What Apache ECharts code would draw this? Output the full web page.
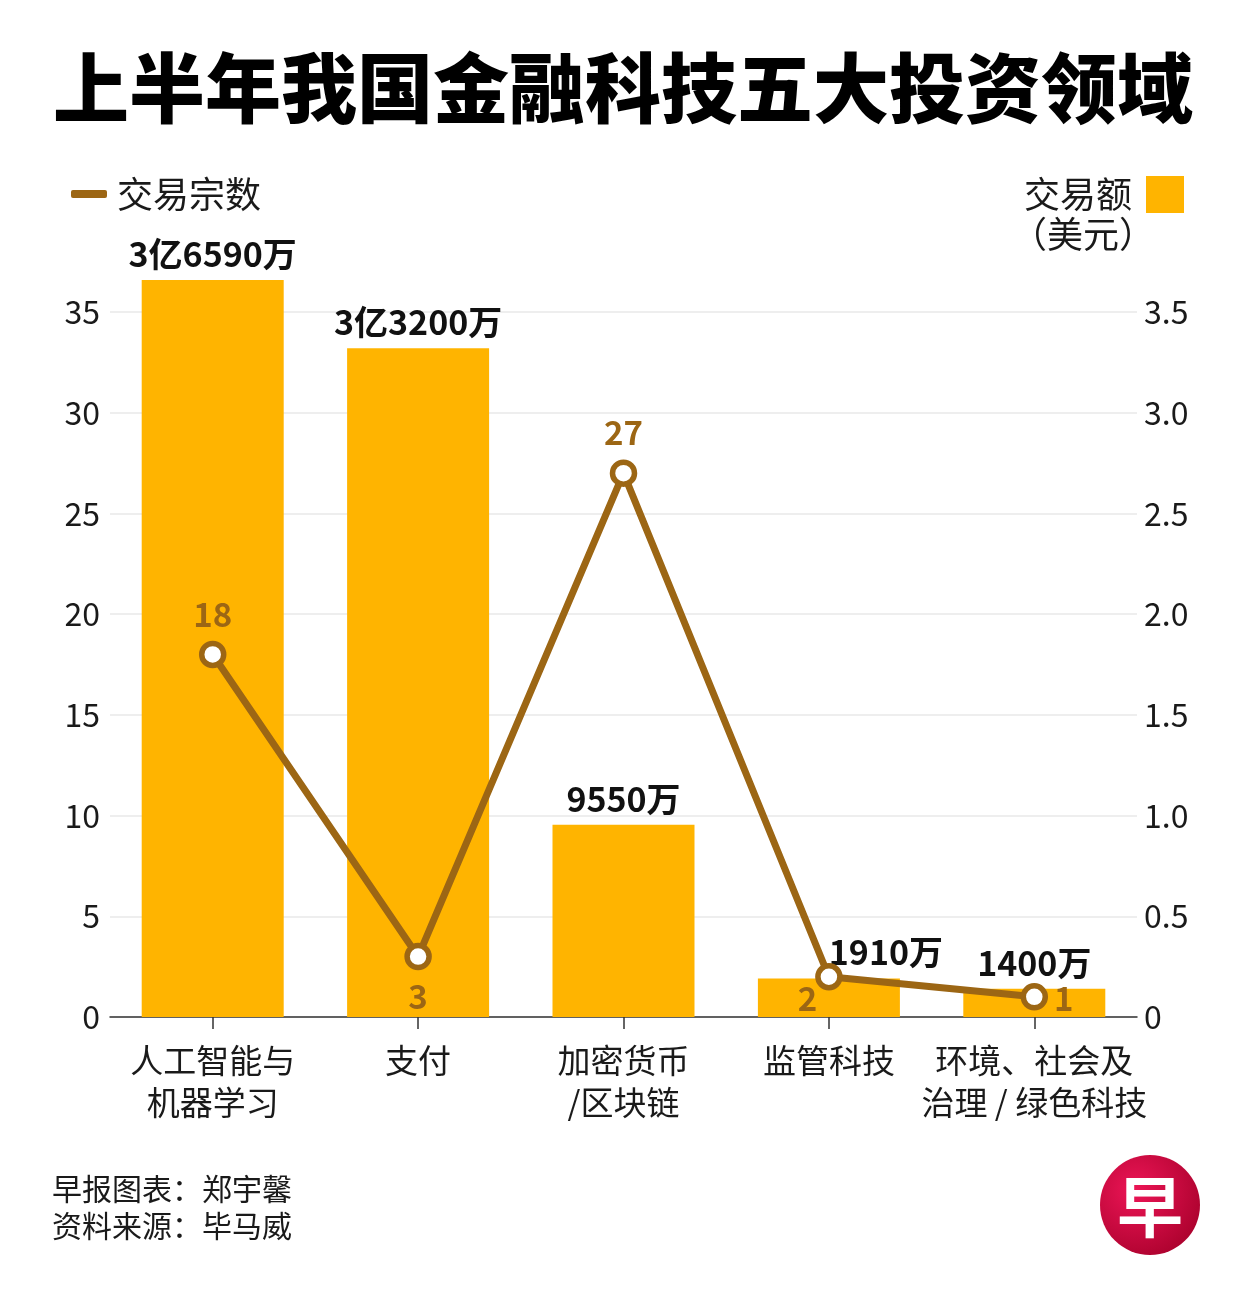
<!DOCTYPE html>
<html>
<head>
<meta charset="utf-8">
<script src="https://cdn.jsdelivr.net/npm/echarts@6/dist/echarts.min.js"></script>
<style>
html,body{margin:0;padding:0;background:#fff;}
#c{width:1251px;height:1310px;}
</style>
</head>
<body>
<div id="c"></div>
<script>
const categories = ['人工智能与\n机器学习', '支付', '加密货币\n/区块链', '监管科技', '环境、社会及\n治理 / 绿色科技'];
const dealCounts = [18, 3, 27, 2, 1];
const dealValues = [3.659, 3.32, 0.955, 0.191, 0.14];
const valueLabels = ['3亿6590万', '3亿3200万', '9550万', '1910万', '1400万'];
const leftTicks = { min: 0, max: 35, interval: 5 };
const rightTicks = { min: 0, max: 3.5, interval: 0.5 };

const FONT = '"Noto Sans CJK SC", "Noto Sans", sans-serif';
const BAR = '#FFB400';
const LINE = '#9C6614';

const chart = echarts.init(document.getElementById('c'), null, { renderer: 'canvas' });

const lineLabelPos = [
  { position: 'top', distance: 10 },
  { position: 'bottom', distance: 10 },
  { position: 'top', distance: 10 },
  { position: 'left', distance: 0, offset: [2, 22] },
  { position: 'right', distance: 6, offset: [0, 2] }
];
const barLabelPos = [
  { offset: [0, 0] },
  { offset: [0, 0] },
  { offset: [0, 0] },
  { offset: [57, 0] },
  { offset: [0, 0] }
];

chart.setOption({
  backgroundColor: '#fff',
  textStyle: { fontFamily: FONT },
  animation: false,
  grid: { left: 110, right: 114, top: 312, bottom: 293, containLabel: false },
  legend: [
    {
      data: [{ name: '交易宗数', icon: 'roundRect', itemStyle: { color: LINE, borderWidth: 0 } }],
      left: 66, top: 171,
      itemWidth: 36, itemHeight: 8, itemGap: 10,
      textStyle: { fontSize: 36, color: '#1a1a1a', fontFamily: FONT, padding: [0, 0, 0, 5] },
      selectedMode: false
    },
    {
      data: [{ name: '交易额', icon: 'rect' }],
      right: 62, top: 171, align: 'right',
      itemWidth: 38, itemHeight: 37,
      textStyle: { fontSize: 36, color: '#1a1a1a', fontFamily: FONT, padding: [0, 9, 0, 0] },
      selectedMode: false
    }
  ],
  xAxis: {
    type: 'category',
    data: categories,
    axisLine: { lineStyle: { color: '#333', width: 1.5 } },
    axisTick: { show: true, alignWithLabel: true, length: 12, lineStyle: { color: '#333', width: 1.5 } },
    axisLabel: { interval: 0, fontSize: 33, lineHeight: 42, color: '#1a1a1a', margin: 22, fontFamily: FONT }
  },
  yAxis: [
    {
      type: 'value',
      min: leftTicks.min, max: leftTicks.max, interval: leftTicks.interval,
      axisLine: { show: false }, axisTick: { show: false },
      splitLine: { lineStyle: { color: '#e8e8e8', width: 1.5 } },
      axisLabel: { fontSize: 32, color: '#1a1a1a', margin: 10, fontFamily: FONT }
    },
    {
      type: 'value',
      min: rightTicks.min, max: rightTicks.max, interval: rightTicks.interval,
      axisLine: { show: false }, axisTick: { show: false },
      splitLine: { show: false },
      axisLabel: {
        fontSize: 32, color: '#1a1a1a', margin: 7, fontFamily: FONT,
        formatter: v => v === 0 ? '0' : v.toFixed(1)
      }
    }
  ],
  series: [
    {
      name: '交易额',
      type: 'bar',
      yAxisIndex: 1,
      barWidth: 142,
      clip: false,
      itemStyle: { color: BAR },
      data: dealValues.map((v, i) => ({
        value: v,
        label: {
          show: true, position: 'top', distance: 9,
          offset: barLabelPos[i].offset,
          formatter: valueLabels[i],
          fontSize: 34, fontWeight: 'bold', color: '#111', fontFamily: FONT
        }
      })),
      z: 2
    },
    {
      name: '交易宗数',
      type: 'line',
      yAxisIndex: 0,
      symbol: 'circle',
      symbolSize: 22,
      lineStyle: { color: LINE, width: 7 },
      itemStyle: { color: '#fff', borderColor: LINE, borderWidth: 5.5 },
      data: dealCounts.map((v, i) => ({
        value: v,
        label: Object.assign({
          show: true,
          fontSize: 33, fontWeight: 'bold', color: LINE, fontFamily: FONT
        }, lineLabelPos[i])
      })),
      z: 5
    }
  ],
  graphic: [
    {
      type: 'text', left: 53, top: 50,
      style: { text: '上半年我国金融科技五大投资领域', fontSize: 76, fontWeight: 900, fill: '#000', fontFamily: FONT }
    },
    {
      type: 'text', right: 96, top: 216,
      style: { text: '（美元）', fontSize: 36, fill: '#1a1a1a', fontFamily: FONT }
    },
    {
      type: 'text', left: 52, top: 1170,
      style: { text: '早报图表：郑宇馨\n资料来源：毕马威', fontSize: 30, lineHeight: 37, fill: '#1a1a1a', fontFamily: FONT }
    },
    {
      type: 'group', left: 1100, top: 1155,
      children: [
        {
          type: 'circle', shape: { cx: 50, cy: 50, r: 50 },
          style: {
            fill: new echarts.graphic.RadialGradient(0.35, 0.35, 0.8, [
              { offset: 0, color: '#ec1556' },
              { offset: 1, color: '#a6002a' }
            ])
          }
        },
        {
          type: 'text', x: 50, y: 52,
          style: { text: '早', fontSize: 66, fontWeight: 'bold', fill: '#fff', align: 'center', verticalAlign: 'middle', fontFamily: FONT }
        }
      ]
    }
  ]
});
</script>
</body>
</html>
